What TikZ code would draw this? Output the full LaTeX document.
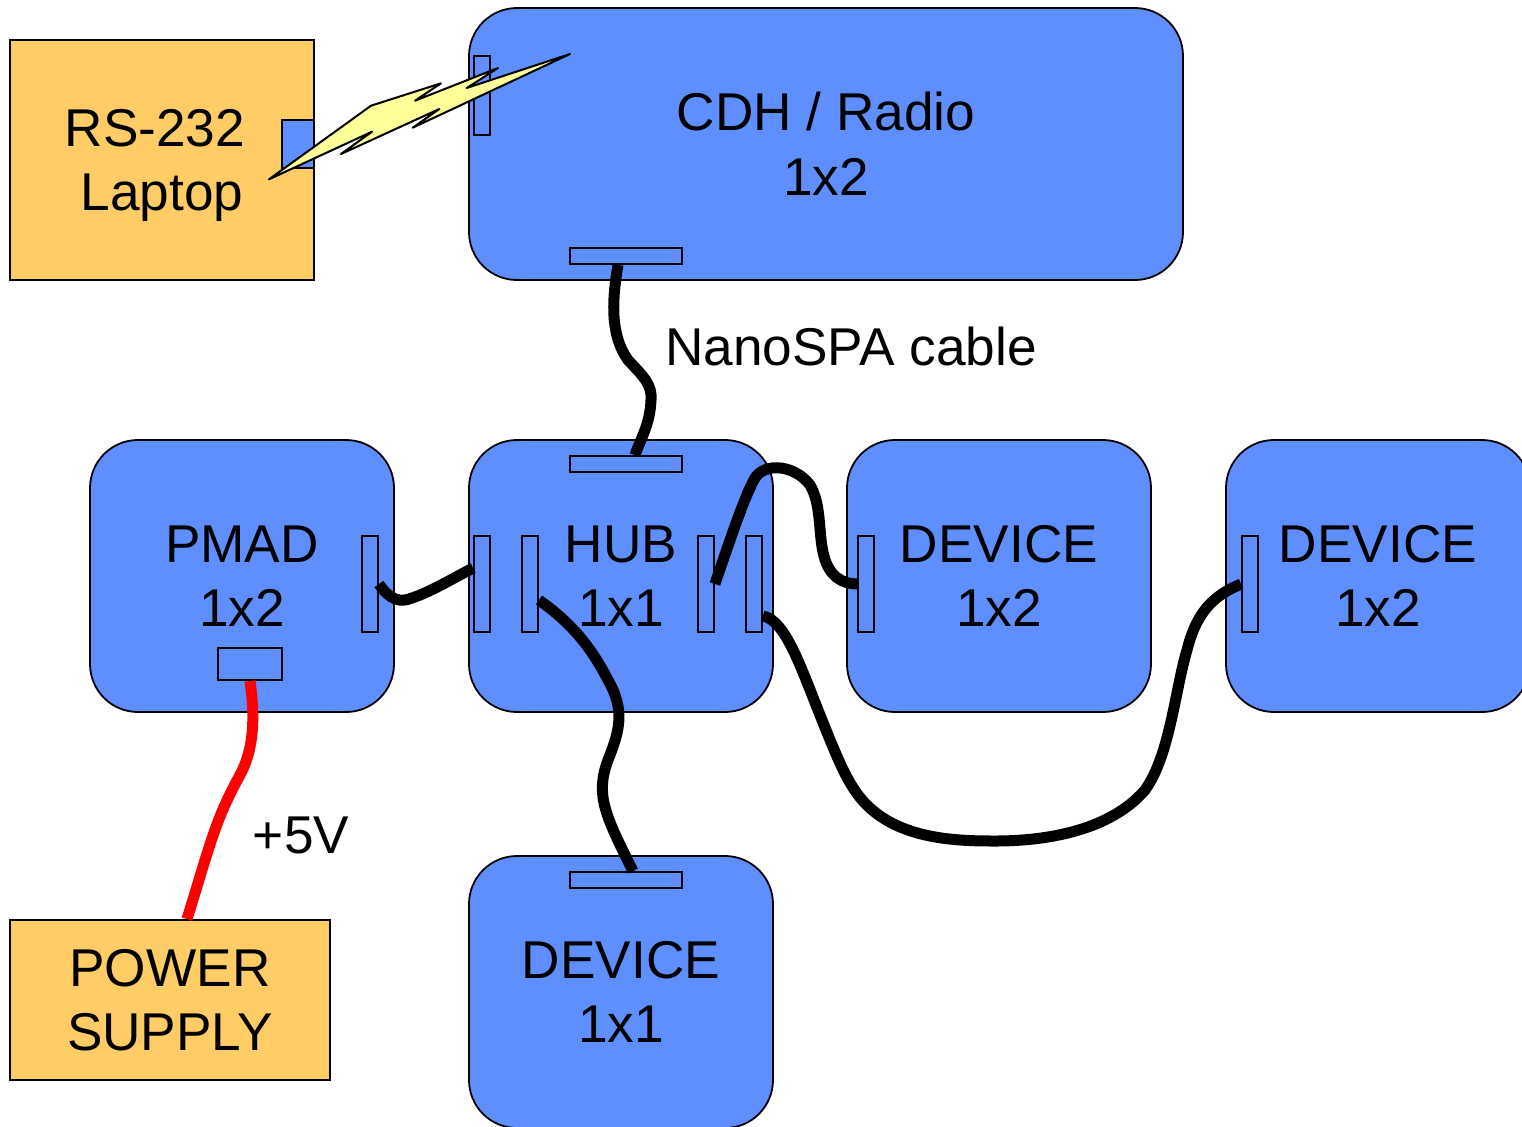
\documentclass[tikz,border=0pt]{standalone}
\usepackage{fontspec}
\setmainfont{Liberation Sans}
\definecolor{boardblue}{HTML}{5F8FFF}
\definecolor{boxorange}{HTML}{FFCC66}
\definecolor{boltyellow}{HTML}{FFFF99}
\tikzset{
  lbl/.style={font=\fontsize{26.6}{32.3}\selectfont,align=center,inner sep=0pt,text depth=0pt},
  board/.style={lbl,text depth=-1.5pt,draw=black,line width=0.9pt,fill=boardblue,rounded corners=24pt,minimum width=152pt,minimum height=136pt},
  supply/.style={lbl,text depth=-1.5pt,draw=black,line width=0.9pt,fill=boxorange},
  vport/.style={draw=black,line width=0.9pt,fill=boardblue,inner sep=0pt,minimum width=8pt,minimum height=48pt},
  hport/.style={draw=black,line width=0.9pt,fill=boardblue,inner sep=0pt,minimum width=56pt,minimum height=8pt},
  cable/.style={line width=5.5pt,black},
}
\begin{document}
\begin{tikzpicture}[x=0.5pt,y=-0.5pt]
\useasboundingbox (0,0) rectangle (1522,1126);
\clip (0,0) rectangle (1522,1126);
% boxes
\node[supply,text depth=-2pt,minimum width=152pt,minimum height=120pt] (laptop) at (162,160) {RS-232\hspace*{7pt}\\Laptop};
\node[supply,minimum width=160pt,minimum height=80pt] (psu) at (170,1000) {POWER\\SUPPLY};
\node[board,minimum width=357pt] (cdh) at (826,144) {CDH / Radio\\1x2};
\node[board] (pmad) at (242,576) {PMAD\\1x2};
\node[board] (hub) at (621,576) {HUB\\1x1};
\node[board] (devone) at (999,576) {DEVICE\\1x2};
\node[board] (devtwo) at (1378,576) {DEVICE\\1x2};
\node[board] (devthree) at (621,992) {DEVICE\\1x1};
% connectors on the boards
\node[vport,minimum height=24pt,minimum width=16pt] (laptopport) at (298,144) {};
\node[vport,minimum height=39.5pt] (cdhleft) at (482,95.5) {};
\node[hport] (cdhbot) at (626,256) {};
\node[vport] (pmadright) at (370,584) {};
\node[hport,minimum width=32pt,minimum height=16pt] (pmadbot) at (250,664) {};
\node[hport] (hubtop) at (626,464) {};
\node[vport] (huba) at (482,584) {};
\node[vport] (hubb) at (530,584) {};
\node[vport] (hubc) at (706,584) {};
\node[vport] (hubd) at (754,584) {};
\node[vport] (devoneport) at (866,584) {};
\node[vport] (devtwoport) at (1250,584) {};
\node[hport] (devthreeport) at (626,880) {};
% cables
\draw[cable] ([xshift=-4pt]cdhbot.south) .. controls (612,300) and (610,335) .. (628,360) .. controls (645,378) and (652,385) .. (651,400) .. controls (650,425) and (640,440) .. ([xshift=4.5pt]hubtop.north);
\draw[cable] (pmadright.east) .. controls (390,600) and (400,603) .. (412,598) .. controls (430,592) and (450,580) .. ([yshift=8pt]huba.west);
\draw[cable] ([yshift=-8pt]hubb.east) .. controls (570,622) and (590,645) .. (608,680) .. controls (625,710) and (620,730) .. (608,760) .. controls (595,795) and (605,815) .. ([xshift=3.5pt]devthreeport.north);
\draw[cable] (hubc.east) .. controls (730,540) and (745,495) .. (755,478) .. controls (765,462) and (795,465) .. (810,485) .. controls (822,505) and (818,535) .. (824,556) .. controls (829,576) and (842,584) .. (devoneport.west);
\draw[cable] ([yshift=-16pt]hubd.east) .. controls (785,620) and (800,665) .. (820,715) .. controls (840,765) and (850,790) .. (870,808) .. controls (905,840) and (960,841) .. (995,841) .. controls (1060,841) and (1115,825) .. (1145,790) .. controls (1170,755) and (1175,690) .. (1187,650) .. controls (1197,610) and (1215,595) .. (devtwoport.west);
\draw[cable,red] (pmadbot.south) .. controls (254,710) and (256,745) .. (240,775) .. controls (215,820) and (210,845) .. ([xshift=8.5pt]psu.north);
% wireless link
\draw[line width=1pt,fill=boltyellow,line join=round] (269,179.3)--(371,105.7)--(441,83.3)--(415,100.7)--(498,68)--(466.7,88)--(570,54)--(412.7,127.7)--(439.3,109)--(341,154)--(372,131.7)--cycle;
% labels
\node[lbl] (nanospa) at (851,346) {NanoSPA cable};
\node[lbl] (fivev) at (301,835) {+5V};
\end{tikzpicture}
\end{document}
